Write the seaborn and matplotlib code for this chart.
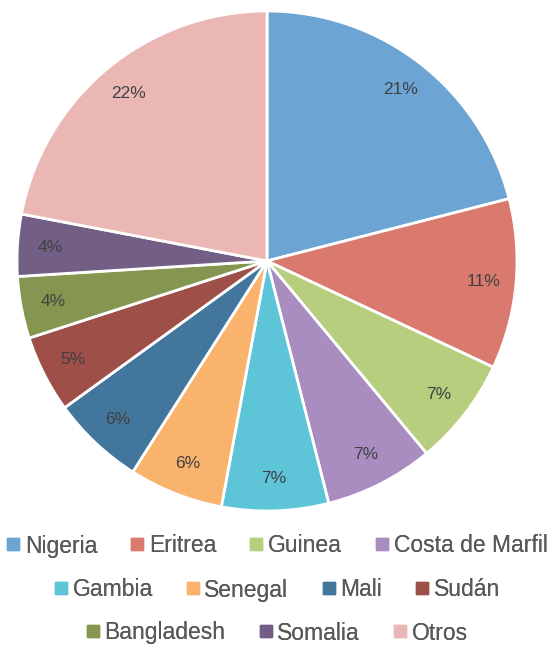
import matplotlib.pyplot as plt
import seaborn as sns
from matplotlib.lines import Line2D

countries = ['Nigeria', 'Eritrea', 'Guinea', 'Costa de Marfil', 'Gambia',
             'Senegal', 'Mali', 'Sudán', 'Bangladesh', 'Somalia', 'Otros']
shares = [21.0, 11.0, 7.0, 7.05, 6.9, 6.1, 6.0, 5.0, 4.0, 4.0, 22.0]
colors = ['#6CA4D4', '#DA7A6E', '#B6CE7E', '#A98DC1', '#5EC4D8', '#F9B36D',
          '#43769C', '#9E4F47', '#84964F', '#735F85', '#EBB7B4']
legend_rows = [countries[0:4], countries[4:8], countries[8:11]]

sns.set_theme(style='white')
plt.rcParams['font.family'] = ['Liberation Sans', 'DejaVu Sans']
palette = sns.color_palette(colors)

fig = plt.figure(figsize=(5.55, 6.46), dpi=100)
ax = fig.add_axes([17 / 555, 1 - 511 / 646, 500 / 555, 500 / 646])

wedges, texts, autotexts = ax.pie(
    shares, colors=palette, startangle=90, counterclock=False,
    autopct=lambda p: f'{p:.0f}%', pctdistance=0.87,
    wedgeprops=dict(edgecolor='white', linewidth=2),
    textprops=dict(color='#404040', fontsize=12.5),
)
ax.set_xlim(-1, 1)
ax.set_ylim(-1, 1)
ax.set_aspect('equal')

row_y = [1 - 546 / 646, 1 - 590 / 646, 1 - 633 / 646]
for names, y in zip(legend_rows, row_y):
    handles = [Line2D([], [], marker='s', linestyle='', markersize=8,
                      color=palette[countries.index(n)]) for n in names]
    leg = fig.legend(handles, names, loc='center', bbox_to_anchor=(0.5, y),
                     ncol=len(names), frameon=False, fontsize=16.5,
                     handlelength=0.5, handletextpad=0.26, columnspacing=1.5,
                     labelcolor='#595959', borderpad=0, borderaxespad=0)
    fig.add_artist(leg)

fig.savefig('out.png', dpi=100)
